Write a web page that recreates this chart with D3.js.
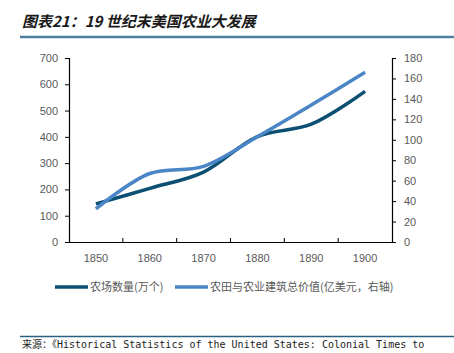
<!DOCTYPE html>
<html>
<head>
<meta charset="utf-8">
<script src="https://cdn.jsdelivr.net/npm/d3@7"></script>
<style>
  body { margin: 0; background: #fff; overflow: hidden; }
  svg { display: block; }
</style>
</head>
<body>
<div id="chart"></div>
<script>
// data
const years = ['1850', '1860', '1870', '1880', '1890', '1900']
const farms = [145, 204, 266, 401, 448, 573]          // 万个, left axis
const farmValue = [32.5, 67, 74, 103, 134, 166]        // 亿美元, right axis
const leftTicks = [0, 100, 200, 300, 400, 500, 600, 700]
const rightTicks = [0, 20, 40, 60, 80, 100, 120, 140, 160, 180]
const seriesNames = ['农场数量(万个)', '农田与农业建筑总价值(亿美元，右轴)']
const colors = ['#0b4f73', '#4a86c5']

const width = 454, height = 353
const margin = {top: 58, right: 62, bottom: 111, left: 69}
const innerWidth = width - margin.left - margin.right
const innerHeight = height - margin.top - margin.bottom

const svg = d3.select('#chart').append('svg')
  .attr('width', width)
  .attr('height', height)
  .style('font-family', 'Liberation Sans, Arial, sans-serif')

// title + rule
svg.append('text')
  .attr('x', 22).attr('y', 27)
  .attr('font-family', 'Noto Sans CJK SC')
  .attr('font-size', 15)
  .attr('font-weight', 'bold')
  .attr('font-style', 'italic')
  .attr('fill', '#1a1a1a')
  .text('图表21：19 世纪末美国农业大发展')

svg.append('line')
  .attr('x1', 20).attr('x2', width)
  .attr('y1', 37).attr('y2', 37)
  .attr('stroke', '#4e7f9e').attr('stroke-width', 2.5)

const g = svg.append('g').attr('transform', 'translate(' + margin.left + ',' + margin.top + ')')

let x = d3.scaleBand().domain(years).range([0, innerWidth])
let yL = d3.scaleLinear().domain([0, 700]).range([innerHeight, 0])
let yR = d3.scaleLinear().domain([0, 180]).range([innerHeight, 0])

function styleAxis(sel) {
  sel.select('.domain').attr('stroke', '#000').attr('stroke-width', 1.2)
  sel.selectAll('.tick line').attr('stroke', '#000')
  sel.selectAll('.tick text').attr('fill', '#595959').attr('font-size', 11)
}

g.append('g')
  .call(d3.axisLeft(yL).tickValues(leftTicks).tickSize(4).tickPadding(7))
  .call(styleAxis)

g.append('g')
  .attr('transform', 'translate(' + innerWidth + ',0)')
  .call(d3.axisRight(yR).tickValues(rightTicks).tickSize(4).tickPadding(8))
  .call(styleAxis)

const xAxis = g.append('g')
  .attr('transform', 'translate(0,' + innerHeight + ')')
  .call(d3.axisBottom(x).tickSize(0).tickPadding(12))
  .call(styleAxis)

// tick marks between categories
xAxis.selectAll('.sep')
  .data(years.slice(1))
  .enter().append('line')
  .attr('x1', d => x(d)).attr('x2', d => x(d))
  .attr('y1', 0).attr('y2', -4)
  .attr('stroke', '#000')

const cx = d => x(d) + x.bandwidth() / 2

const lineL = d3.line()
  .x((d, i) => cx(years[i]))
  .y(d => yL(d))
  .curve(d3.curveCatmullRom.alpha(0.5))

const lineR = d3.line()
  .x((d, i) => cx(years[i]))
  .y(d => yR(d))
  .curve(d3.curveCatmullRom.alpha(0.5))

g.append('path')
  .attr('d', lineL(farms))
  .attr('fill', 'none')
  .attr('stroke', colors[0])
  .attr('stroke-width', 3.5)

g.append('path')
  .attr('d', lineR(farmValue))
  .attr('fill', 'none')
  .attr('stroke', colors[1])
  .attr('stroke-width', 3.5)

// legend
const legend = svg.append('g').attr('transform', 'translate(55,287)')
const legendX = [0, 120]
seriesNames.forEach(function (name, i) {
  legend.append('line')
    .attr('x1', legendX[i]).attr('x2', legendX[i] + 33)
    .attr('y1', 0).attr('y2', 0)
    .attr('stroke', colors[i]).attr('stroke-width', 3.5)
  legend.append('text')
    .attr('x', legendX[i] + 35).attr('y', 4)
    .attr('font-family', 'Noto Sans CJK SC')
    .attr('font-size', 11)
    .attr('fill', '#595959')
    .text(name)
})

// bottom rule + source
svg.append('line')
  .attr('x1', 20).attr('x2', width)
  .attr('y1', 336.5).attr('y2', 336.5)
  .attr('stroke', '#2b5f80').attr('stroke-width', 1.5)

svg.append('text')
  .attr('x', 22).attr('y', 348)
  .attr('font-family', 'DejaVu Sans Mono, Noto Sans CJK SC')
  .attr('font-size', 10)
  .attr('fill', '#222')
  .text('来源：《Historical Statistics of the United States: Colonial Times to')
</script>
</body>
</html>
